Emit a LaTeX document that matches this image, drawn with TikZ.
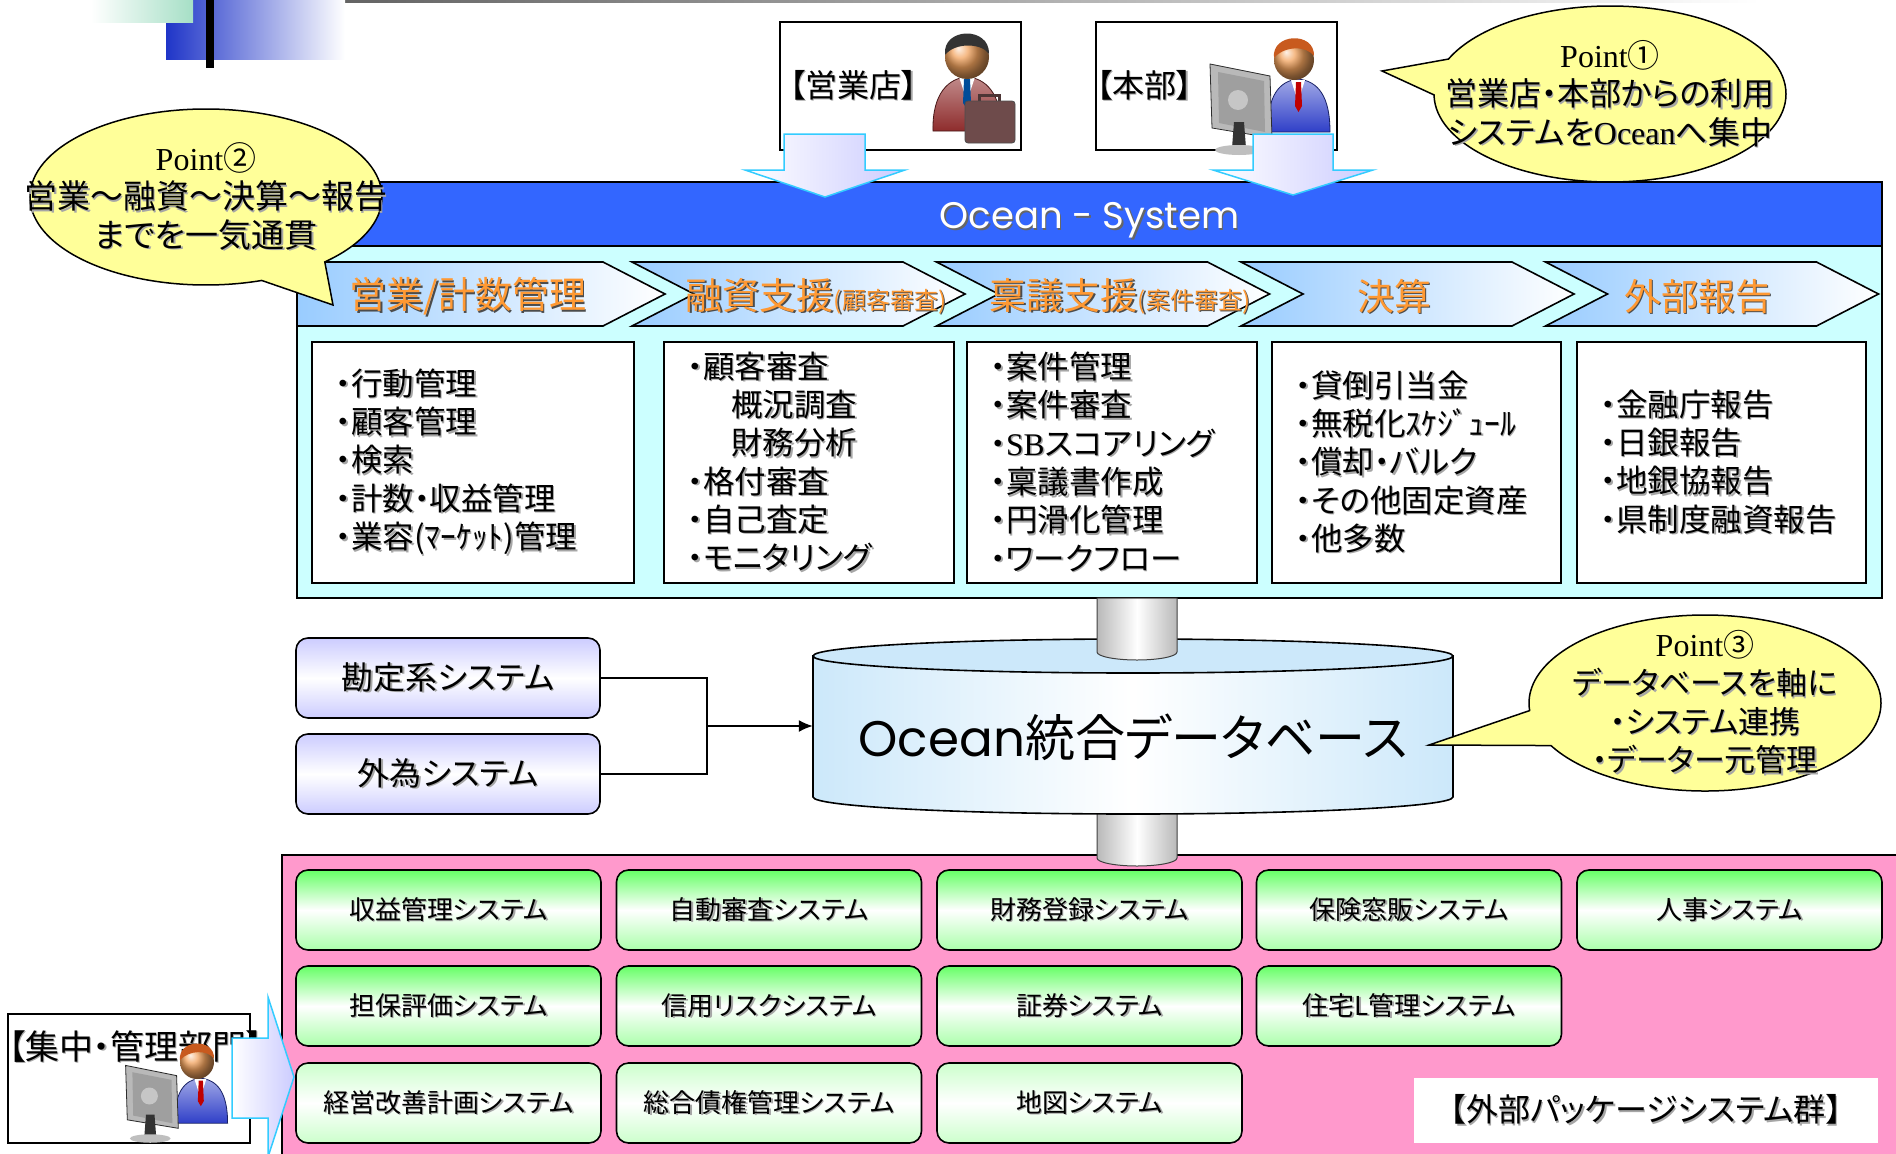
\documentclass[tikz,border=0pt]{standalone}
\usepackage{fontspec}
\setmainfont{Noto Sans CJK JP}[RawFeature=+palt]
\newfontfamily\romanfont{Liberation Serif}
\newfontfamily\geofont{Poppins}
\usepackage{tikz}
\usetikzlibrary{positioning, arrows.meta, shapes.callouts}

\definecolor{oceanblue}{HTML}{3366FF}
\definecolor{panelcyan}{HTML}{CCFFFF}
\definecolor{chevblue}{HTML}{99CCFF}
\definecolor{labelorange}{HTML}{FF9933}
\definecolor{memoyellow}{HTML}{FFFF99}
\definecolor{pkgpink}{HTML}{FF99CC}
\definecolor{pkggreen}{HTML}{66FF66}
\definecolor{palegreen}{HTML}{CCFFCC}
\definecolor{lavender}{HTML}{CCCCFF}
\definecolor{arrowcyan}{HTML}{33CCFF}
\definecolor{dbblue}{HTML}{CCE8FA}
\definecolor{suitblue}{HTML}{2F3FC8}
\definecolor{suitred}{HTML}{8E2C2C}
\definecolor{skin}{HTML}{F2A35E}
\definecolor{hairbrown}{HTML}{C85A1E}
\definecolor{bagbrown}{HTML}{6E4B4B}
\definecolor{decoblue}{HTML}{1F35C8}
\definecolor{decogreen}{HTML}{A6DFC6}

% text with a soft drop shadow
\newcommand{\shd}[2][black!35]{\rlap{\kern1.5pt\raisebox{-1.5pt}{\color{#1}#2}}#2}

% person sitting behind a monitor, head at the origin
\newcommand{\deskuser}{%
  \draw[top color=suitblue!45!white, bottom color=suitblue, draw=suitblue!50!black, line width=0.8pt]
    (-26,72) .. controls (-27,36) and (-15,21) .. (4,19) .. controls (24,21) and (36,36) .. (36,72) -- cycle;
  \fill[white] (-3,20) -- (11,20) -- (4,42) -- cycle;
  \fill[red!75!black] (2,22) -- (7,22) -- (8,46) -- (4.5,52) -- (1,46) -- cycle;
  \shade[ball color=skin] (0,0) circle[radius=20pt];
  \fill[hairbrown] (-20,-2) .. controls (-23,-27) and (21,-29) .. (20,-4) .. controls (13,-14) and (-9,-15) .. (-20,-2) -- cycle;
  \draw[fill=gray!55, draw=gray!35!black, line width=0.8pt] (-84,4) -- (-24,16) -- (-22,78) -- (-82,68) -- cycle;
  \fill[gray!75] (-76,12) -- (-30,21) -- (-29,72) -- (-75,63) -- cycle;
  \fill[gray!45] (-56,40) circle[radius=10pt];
  \fill[gray!40!black] (-60,62) -- (-50,62) -- (-48,88) -- (-62,88) -- cycle;
  \fill[gray!50] (-55,90) ellipse[x radius=24pt, y radius=5pt];
}

\begin{document}
\begin{tikzpicture}[x=1pt, y=-1pt, inner sep=0pt,
  listbox/.style={draw, fill=white, line width=1.6pt, minimum height=241pt},
  listtext/.style={anchor=west, align=left, font=\fontsize{31.5}{38.3}\selectfont},
  steplabel/.style={text=labelorange, font=\fontsize{37}{40}\selectfont},
  chevron/.style={draw, line width=1.6pt, left color=chevblue, right color=white},
  memo/.style={ellipse callout, draw, fill=memoyellow, line width=1.5pt, minimum width=352pt,
    minimum height=176pt, callout pointer arc=24},
  memotext/.style={align=center, font=\fontsize{32}{38.5}\selectfont},
  userbox/.style={draw, fill=white, line width=1.6pt, minimum width=241pt, minimum height=128pt},
  userlabel/.style={anchor=west, font=\fontsize{32}{34}\selectfont},
  hostbox/.style={draw, line width=1.6pt, rounded corners=12pt, minimum width=304pt, minimum height=80pt,
    top color=lavender, bottom color=lavender, middle color=white, font=\fontsize{32}{34}\selectfont},
  sysbox/.style={draw, line width=1.6pt, rounded corners=12pt, minimum width=305pt, minimum height=80pt,
    top color=pkggreen, bottom color=pkggreen!55, middle color=white, font=\fontsize{26}{28}\selectfont},
  palebox/.style={sysbox, top color=palegreen, bottom color=palegreen, middle color=white},
  blockarrow/.style={draw=arrowcyan, line width=1.5pt, left color=white, right color=lavender},
  pipe/.style={draw=black!75, line width=1pt, left color=gray!55, right color=gray!55, middle color=white}]

\useasboundingbox (0,0) rectangle (1896,1154);
\fill[white] (0,0) rectangle (1896,1154);

% title bar ornament
\shade[left color=black!70, right color=white] (132,0) rectangle (1760,2);
\shade[left color=decoblue, right color=white] (166,0) rectangle (345,59);
\shade[left color=white, right color=decogreen] (91,0) rectangle (193,22);
\fill[black] (206,0) rectangle (214,68);

% users at the top
\node[userbox] (shop) at (900.5,86) {};
\node[userlabel, right=10pt of shop.west] (shoplbl) {\shd{【営業店】}};
\begin{scope}[shift={(967,57)}]
  \draw[top color=suitred!55!white, bottom color=suitred, draw=suitred!50!black, line width=0.8pt]
    (-34,74) .. controls (-35,36) and (-18,21) .. (0,20) .. controls (18,21) and (35,36) .. (34,74) -- cycle;
  \fill[white] (-8,20) -- (8,20) -- (0,44) -- cycle;
  \fill[blue!50!cyan!60!black] (-3,22) -- (3,22) -- (4,46) -- (0,52) -- (-4,46) -- cycle;
  \shade[ball color=skin] (0,0) circle[radius=22pt];
  \fill[black!80] (-22,-2) .. controls (-25,-30) and (23,-31) .. (22,-3) .. controls (15,-14) and (-12,-15) .. (-22,-2) -- cycle;
  \draw[line width=3pt, bagbrown!70!black] (12,46) -- (12,38) -- (32,38) -- (32,46);
  \draw[fill=bagbrown, draw=black!70, rounded corners=3pt, line width=0.8pt] (-2,44) rectangle (48,86);
\end{scope}

\node[userbox] (hq) at (1216.5,86) {};
\node[userlabel, right=1pt of hq.west] (hqlbl) {\shd{【本部】}};
\begin{scope}[shift={(1294,60)}]
  \deskuser
\end{scope}

% Ocean system panel
\node[draw, fill=panelcyan, line width=1.6pt, minimum width=1585pt, minimum height=352pt] (panel) at (1089.5,422) {};
\node[draw, fill=oceanblue, line width=1.6pt, minimum width=1585pt, minimum height=64pt] (sys) at (1089.5,214) {};
\node[text=white, font=\geofont\fontsize{37}{38}\selectfont] (syslbl) at (1089.5,221) {\shd[black!60]{Ocean - System}};

% business flow
\draw[chevron] (297,262) -- (603,262) -- (665,294) -- (603,326) -- (297,326) -- cycle;
\foreach \x in {632,936.5,1241,1545.5}
  \draw[chevron] (\x,262) -- (\x+271,262) -- (\x+333,294) -- (\x+271,326) -- (\x,326) -- (\x+62,294) -- cycle;
\node[steplabel] (st1) at (468,297) {\shd[black!70]{営業/計数管理}};
\node[steplabel] (st2) at (816,297) {\shd[black!70]{融資支援{\fontsize{24}{26}\selectfont(顧客審査)}}};
\node[steplabel] (st3) at (1120,297) {\shd[black!70]{稟議支援{\fontsize{24}{26}\selectfont(案件審査)}}};
\node[steplabel] (st4) at (1394,297) {\shd[black!70]{決算}};
\node[steplabel] (st5) at (1698,297) {\shd[black!70]{外部報告}};

\draw[blockarrow] (784,134) -- (865,134) -- (865,170) -- (905,170) -- (825,197) -- (745,170) -- (784,170) -- cycle;
\draw[blockarrow] (1253,134) -- (1333,134) -- (1333,170) -- (1373,170) -- (1293,195) -- (1213,170) -- (1253,170) -- cycle;

% functions per step
\node[listbox, minimum width=322pt] (b1) at (473,462.5) {};
\node[listtext, right=24pt of b1.west] (l1) {\shd{・行動管理}\\\shd{・顧客管理}\\\shd{・検索}\\\shd{・計数・収益管理}\\\shd{・業容(ﾏｰｹｯﾄ)管理}};
\node[listbox, minimum width=290pt] (b2) at (809,462.5) {};
\node[listtext, right=24pt of b2.west] (l2) {\shd{・顧客審査}\\\hspace*{44pt}\shd{概況調査}\\\hspace*{44pt}\shd{財務分析}\\\shd{・格付審査}\\\shd{・自己査定}\\\shd{・モニタリング}};
\node[listbox, minimum width=290pt] (b3) at (1112,462.5) {};
\node[listtext, right=24pt of b3.west] (l3) {\shd{・案件管理}\\\shd{・案件審査}\\\shd{・{\romanfont SB}スコアリング}\\\shd{・稟議書作成}\\\shd{・円滑化管理}\\\shd{・ワークフロー}};
\node[listbox, minimum width=289pt] (b4) at (1416.5,462.5) {};
\node[listtext, right=24pt of b4.west] (l4) {\shd{・貸倒引当金}\\\shd{・無税化ｽｹｼﾞｭｰﾙ}\\\shd{・償却・バルク}\\\shd{・その他固定資産}\\\shd{・他多数}};
\node[listbox, minimum width=289pt] (b5) at (1721.5,462.5) {};
\node[listtext, right=24pt of b5.west] (l5) {\shd{・金融庁報告}\\\shd{・日銀報告}\\\shd{・地銀協報告}\\\shd{・県制度融資報告}};

% package area
\draw[fill=pkgpink, line width=1.6pt] (282,855) rectangle (1910,1170);

% integrated database
\draw[pipe] (1097,800) -- (1097,858) arc[start angle=180, end angle=360, x radius=40pt, y radius=8pt] -- (1177,800) -- cycle;
\draw[line width=1.6pt, left color=dbblue, right color=dbblue, middle color=white]
  (813,656) -- (813,797) arc[start angle=180, end angle=360, x radius=320pt, y radius=17pt] -- (1453,656) -- cycle;
\draw[line width=1.6pt, fill=dbblue] (1133,656) ellipse[x radius=320pt, y radius=17pt];
\draw[pipe] (1097,598) -- (1097,652) arc[start angle=180, end angle=360, x radius=40pt, y radius=8pt] -- (1177,598) -- cycle;
\node[font=\fontsize{50}{52}\selectfont, minimum width=640pt] (db) at (1133,737) {{\geofont Ocean}統合データベース};

% host systems feeding the database
\node[hostbox] (acct) at (448,678) {\shd{勘定系システム}};
\node[hostbox] (forex) at (448,774) {\shd{外為システム}};
\coordinate (join) at (707,726);
\draw[line width=1.6pt] (acct.east) -| (join);
\draw[line width=1.6pt] (forex.east) -| (join);
\draw[line width=1.6pt, -{Latex[length=14pt, width=12pt]}] (join) -- (join -| db.west);

% packaged systems
\node[sysbox] (pk11) at (448.5,910) {\shd{収益管理システム}};
\node[sysbox] (pk12) at (769,910) {\shd{自動審査システム}};
\node[sysbox] (pk13) at (1089.5,910) {\shd{財務登録システム}};
\node[sysbox] (pk14) at (1409,910) {\shd{保険窓販システム}};
\node[sysbox] (pk15) at (1729.5,910) {\shd{人事システム}};
\node[sysbox] (pk21) at (448.5,1006) {\shd{担保評価システム}};
\node[sysbox] (pk22) at (769,1006) {\shd{信用リスクシステム}};
\node[sysbox] (pk23) at (1089.5,1006) {\shd{証券システム}};
\node[sysbox] (pk24) at (1409,1006) {\shd{住宅L管理システム}};
\node[palebox] (pk31) at (448.5,1103) {\shd{経営改善計画システム}};
\node[palebox] (pk32) at (769,1103) {\shd{総合債権管理システム}};
\node[palebox] (pk33) at (1089.5,1103) {\shd{地図システム}};
\node[fill=white, minimum width=464pt, minimum height=65pt, font=\fontsize{32}{34}\selectfont] (pkg) at (1646,1110.5) {\shd{【外部パッケージシステム群】}};

% central management
\node[userbox, minimum width=242pt, minimum height=129pt] (central) at (129,1078.5) {};
\node[userlabel, font=\fontsize{34}{36}\selectfont] (centrallbl) at (8,1047) {\shd{【集中・管理部門】}};
\begin{scope}[shift={(197,1062)}, scale=0.85]
  \deskuser
\end{scope}
\draw[blockarrow] (232,1038) -- (268,1038) -- (268,997) -- (294,1077) -- (268,1157) -- (268,1118) -- (232,1118) -- cycle;

% key points
\node[memo, callout absolute pointer={(1382,71)}] (pt1) at (1610,94) {};
\node[memotext] (pt1txt) at (pt1.center)
  {{\romanfont Point}①\\\shd{営業店・本部からの利用}\\\shd{システムを{\romanfont Ocean}へ集中}};
\node[memo, callout absolute pointer={(333,305)}] (pt2) at (206,197) {};
\node[memotext, font=\fontsize{33}{38.5}\selectfont] (pt2txt) at (pt2.center)
  {{\romanfont\fontsize{32}{38.5}\selectfont Point}②\\\shd{営業～融資～決算～報告}\\\shd{までを一気通貫}};
\node[memo, callout absolute pointer={(1429,745)}] (pt3) at (1705,703) {};
\node[memotext, font=\fontsize{31}{38.3}\selectfont] (pt3txt) at (pt3.center)
  {{\romanfont\fontsize{32}{38.3}\selectfont Point}③\\\shd{データベースを軸に}\\\shd{・システム連携}\\\shd{・データー元管理}};
\end{tikzpicture}
\end{document}
